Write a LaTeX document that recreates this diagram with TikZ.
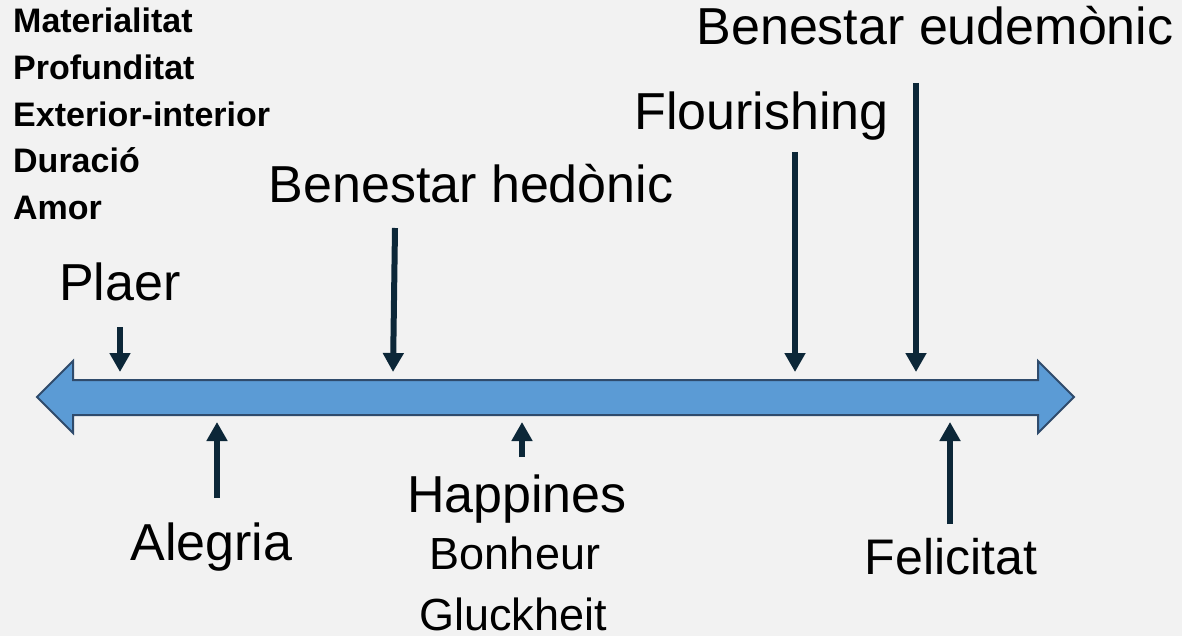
\documentclass[tikz,border=0pt]{standalone}
\usepackage{fontspec}
\setmainfont{Liberation Sans}
\usetikzlibrary{arrows.meta}
\definecolor{bg}{HTML}{F2F2F2}
\definecolor{axisfill}{HTML}{5B9BD5}
\definecolor{axisdraw}{HTML}{2F4B6C}
\definecolor{pointer}{HTML}{0C2738}
\tikzset{
  big/.style={anchor=base, inner sep=0pt, font=\fontsize{52}{60}\selectfont},
  mid/.style={anchor=base, inner sep=0pt, font=\fontsize{45}{54}\selectfont},
  listitem/.style={anchor=base west, inner sep=0pt, font=\fontsize{34}{40}\selectfont\bfseries},
  pointerarrow/.style={draw=pointer, line width=6pt, -{Triangle[width=20pt,length=19pt]}},
}
\begin{document}
\begin{tikzpicture}[x=1pt,y=-1pt]
\useasboundingbox (0,0) rectangle (1182,636);
\fill[bg] (0,0) rectangle (1182,636);
% axis
\filldraw[fill=axisfill, draw=axisdraw, line width=2pt, line join=miter]
  (37,397) -- (73,361) -- (73,380) -- (1038,380) -- (1038,361) -- (1074,397)
  -- (1038,433) -- (1038,415) -- (73,415) -- (73,433) -- cycle;
% left list
\node[listitem] (mat) at (13,33) {Materialitat};
\node[listitem] (pro) at (13,79.7) {Profunditat};
\node[listitem] (ext) at (13,126.4) {Exterior-interior};
\node[listitem] (dur) at (13,173) {Duració};
\node[listitem] (amo) at (13,219.8) {Amor};
% labels
\node[big] (eud) at (935,45) {Benestar eudemònic};
\node[big] (flo) at (761.5,130) {Flourishing};
\node[big] (hed) at (471,203) {Benestar hedònic};
\node[big] (pla) at (120,300) {Plaer};
\node[big] (ale) at (211.5,560) {Alegria};
\node[big] (hap) at (517,512) {Happines};
\node[mid] (bon) at (515,569) {Bonheur};
\node[mid] (glu) at (513,630) {Gluckheit};
\node[big, font=\fontsize{50}{58}\selectfont] (fel) at (951,574) {Felicitat};
% pointer ends
\coordinate (plaS) at (120,327);  \coordinate (plaT) at (120,372);
\coordinate (hedS) at (395,228);  \coordinate (hedT) at (393,372);
\coordinate (floS) at (795,152);  \coordinate (floT) at (795,372);
\coordinate (eudS) at (916,83);   \coordinate (eudT) at (916,372);
\coordinate (aleS) at (217,498);  \coordinate (aleT) at (217,422);
\coordinate (hapS) at (522,457);  \coordinate (hapT) at (522,422);
\coordinate (felS) at (950,524);  \coordinate (felT) at (950,422);
\draw[pointerarrow] (plaS) -- (plaT);
\draw[pointerarrow] (hedS) -- (hedT);
\draw[pointerarrow] (floS) -- (floT);
\draw[pointerarrow] (eudS) -- (eudT);
\draw[pointerarrow] (aleS) -- (aleT);
\draw[pointerarrow] (hapS) -- (hapT);
\draw[pointerarrow] (felS) -- (felT);
\end{tikzpicture}
\end{document}
